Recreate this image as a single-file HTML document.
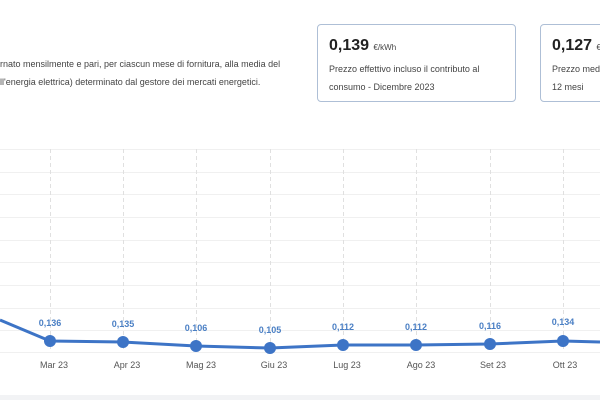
<!DOCTYPE html>
<html><head><meta charset="utf-8"><style>
body{margin:0;width:600px;height:400px;overflow:hidden;background:#fff;font-family:"Liberation Sans",sans-serif;position:relative;color:#333}
.p{position:absolute;left:0;top:55px;font-size:9px;line-height:18px;color:#444;white-space:nowrap}
.card{position:absolute;top:24px;height:76px;border:1px solid #aebfd6;border-radius:4px;background:#fff}
.card .v{position:absolute;left:11px;top:12px;font-size:16px;font-weight:bold;color:#222}
.card .v small{font-size:8px;font-weight:normal;color:#444}
.card .t{position:absolute;left:11px;top:35px;font-size:9px;line-height:18px;color:#444;white-space:nowrap}
.band{position:absolute;left:0;top:395px;width:600px;height:5px;background:#f2f3f5}
</style></head><body>
<div class="p">rnato mensilmente e pari, per ciascun mese di fornitura, alla media del<br>ll'energia elettrica) determinato dal gestore dei mercati energetici.</div>
<div class="card" style="left:317px;width:197px"><div class="v">0,139 <small>€/kWh</small></div><div class="t">Prezzo effettivo incluso il contributo al<br>consumo - Dicembre 2023</div></div>
<div class="card" style="left:540px;width:80px"><div class="v">0,127 <small>€/kWh</small></div><div class="t">Prezzo medio<br>12 mesi</div></div>
<svg width="600" height="400" style="position:absolute;left:0;top:0">
<g stroke="#f0f0f0" stroke-width="1">
<line x1="0" x2="600" y1="149.5" y2="149.5"/><line x1="0" x2="600" y1="172.5" y2="172.5"/><line x1="0" x2="600" y1="194.5" y2="194.5"/><line x1="0" x2="600" y1="217.5" y2="217.5"/><line x1="0" x2="600" y1="240.5" y2="240.5"/><line x1="0" x2="600" y1="262.5" y2="262.5"/><line x1="0" x2="600" y1="285.5" y2="285.5"/><line x1="0" x2="600" y1="308.5" y2="308.5"/><line x1="0" x2="600" y1="330.5" y2="330.5"/><line x1="0" x2="600" y1="352.5" y2="352.5"/>
</g>
<g stroke="#e0e0e0" stroke-dasharray="4,3">
<line x1="50.5" x2="50.5" y1="149" y2="352"/><line x1="123.5" x2="123.5" y1="149" y2="352"/><line x1="196.5" x2="196.5" y1="149" y2="352"/><line x1="270.5" x2="270.5" y1="149" y2="352"/><line x1="343.5" x2="343.5" y1="149" y2="352"/><line x1="416.5" x2="416.5" y1="149" y2="352"/><line x1="490.5" x2="490.5" y1="149" y2="352"/><line x1="563.5" x2="563.5" y1="149" y2="352"/>
</g>
<polyline fill="none" stroke="#3d74c6" stroke-width="3" stroke-linejoin="round" points="0,320 50,341 123,342 196,346 270,348 343,345 416,345 490,344 563,341 600,342"/>
<g fill="#3d74c6">
<circle cx="50" cy="341" r="6"/><circle cx="123" cy="342" r="6"/><circle cx="196" cy="346" r="6"/><circle cx="270" cy="348" r="6"/><circle cx="343" cy="345" r="6"/><circle cx="416" cy="345" r="6"/><circle cx="490" cy="344" r="6"/><circle cx="563" cy="341" r="6"/>
</g>
<g fill="#4a7fc4" font-size="9" font-weight="bold" text-anchor="middle" font-family="Liberation Sans">
<text x="50" y="326">0,136</text><text x="123" y="327">0,135</text><text x="196" y="331">0,106</text><text x="270" y="333">0,105</text><text x="343" y="330">0,112</text><text x="416" y="330">0,112</text><text x="490" y="329">0,116</text><text x="563" y="325">0,134</text>
</g>
<g fill="#555" font-size="9" text-anchor="middle" font-family="Liberation Sans">
<text x="54" y="368">Mar 23</text><text x="127" y="368">Apr 23</text><text x="201" y="368">Mag 23</text><text x="274" y="368">Giu 23</text><text x="347" y="368">Lug 23</text><text x="421" y="368">Ago 23</text><text x="493" y="368">Set 23</text><text x="565" y="368">Ott 23</text>
</g>
</svg>
<div class="band"></div>
</body></html>
